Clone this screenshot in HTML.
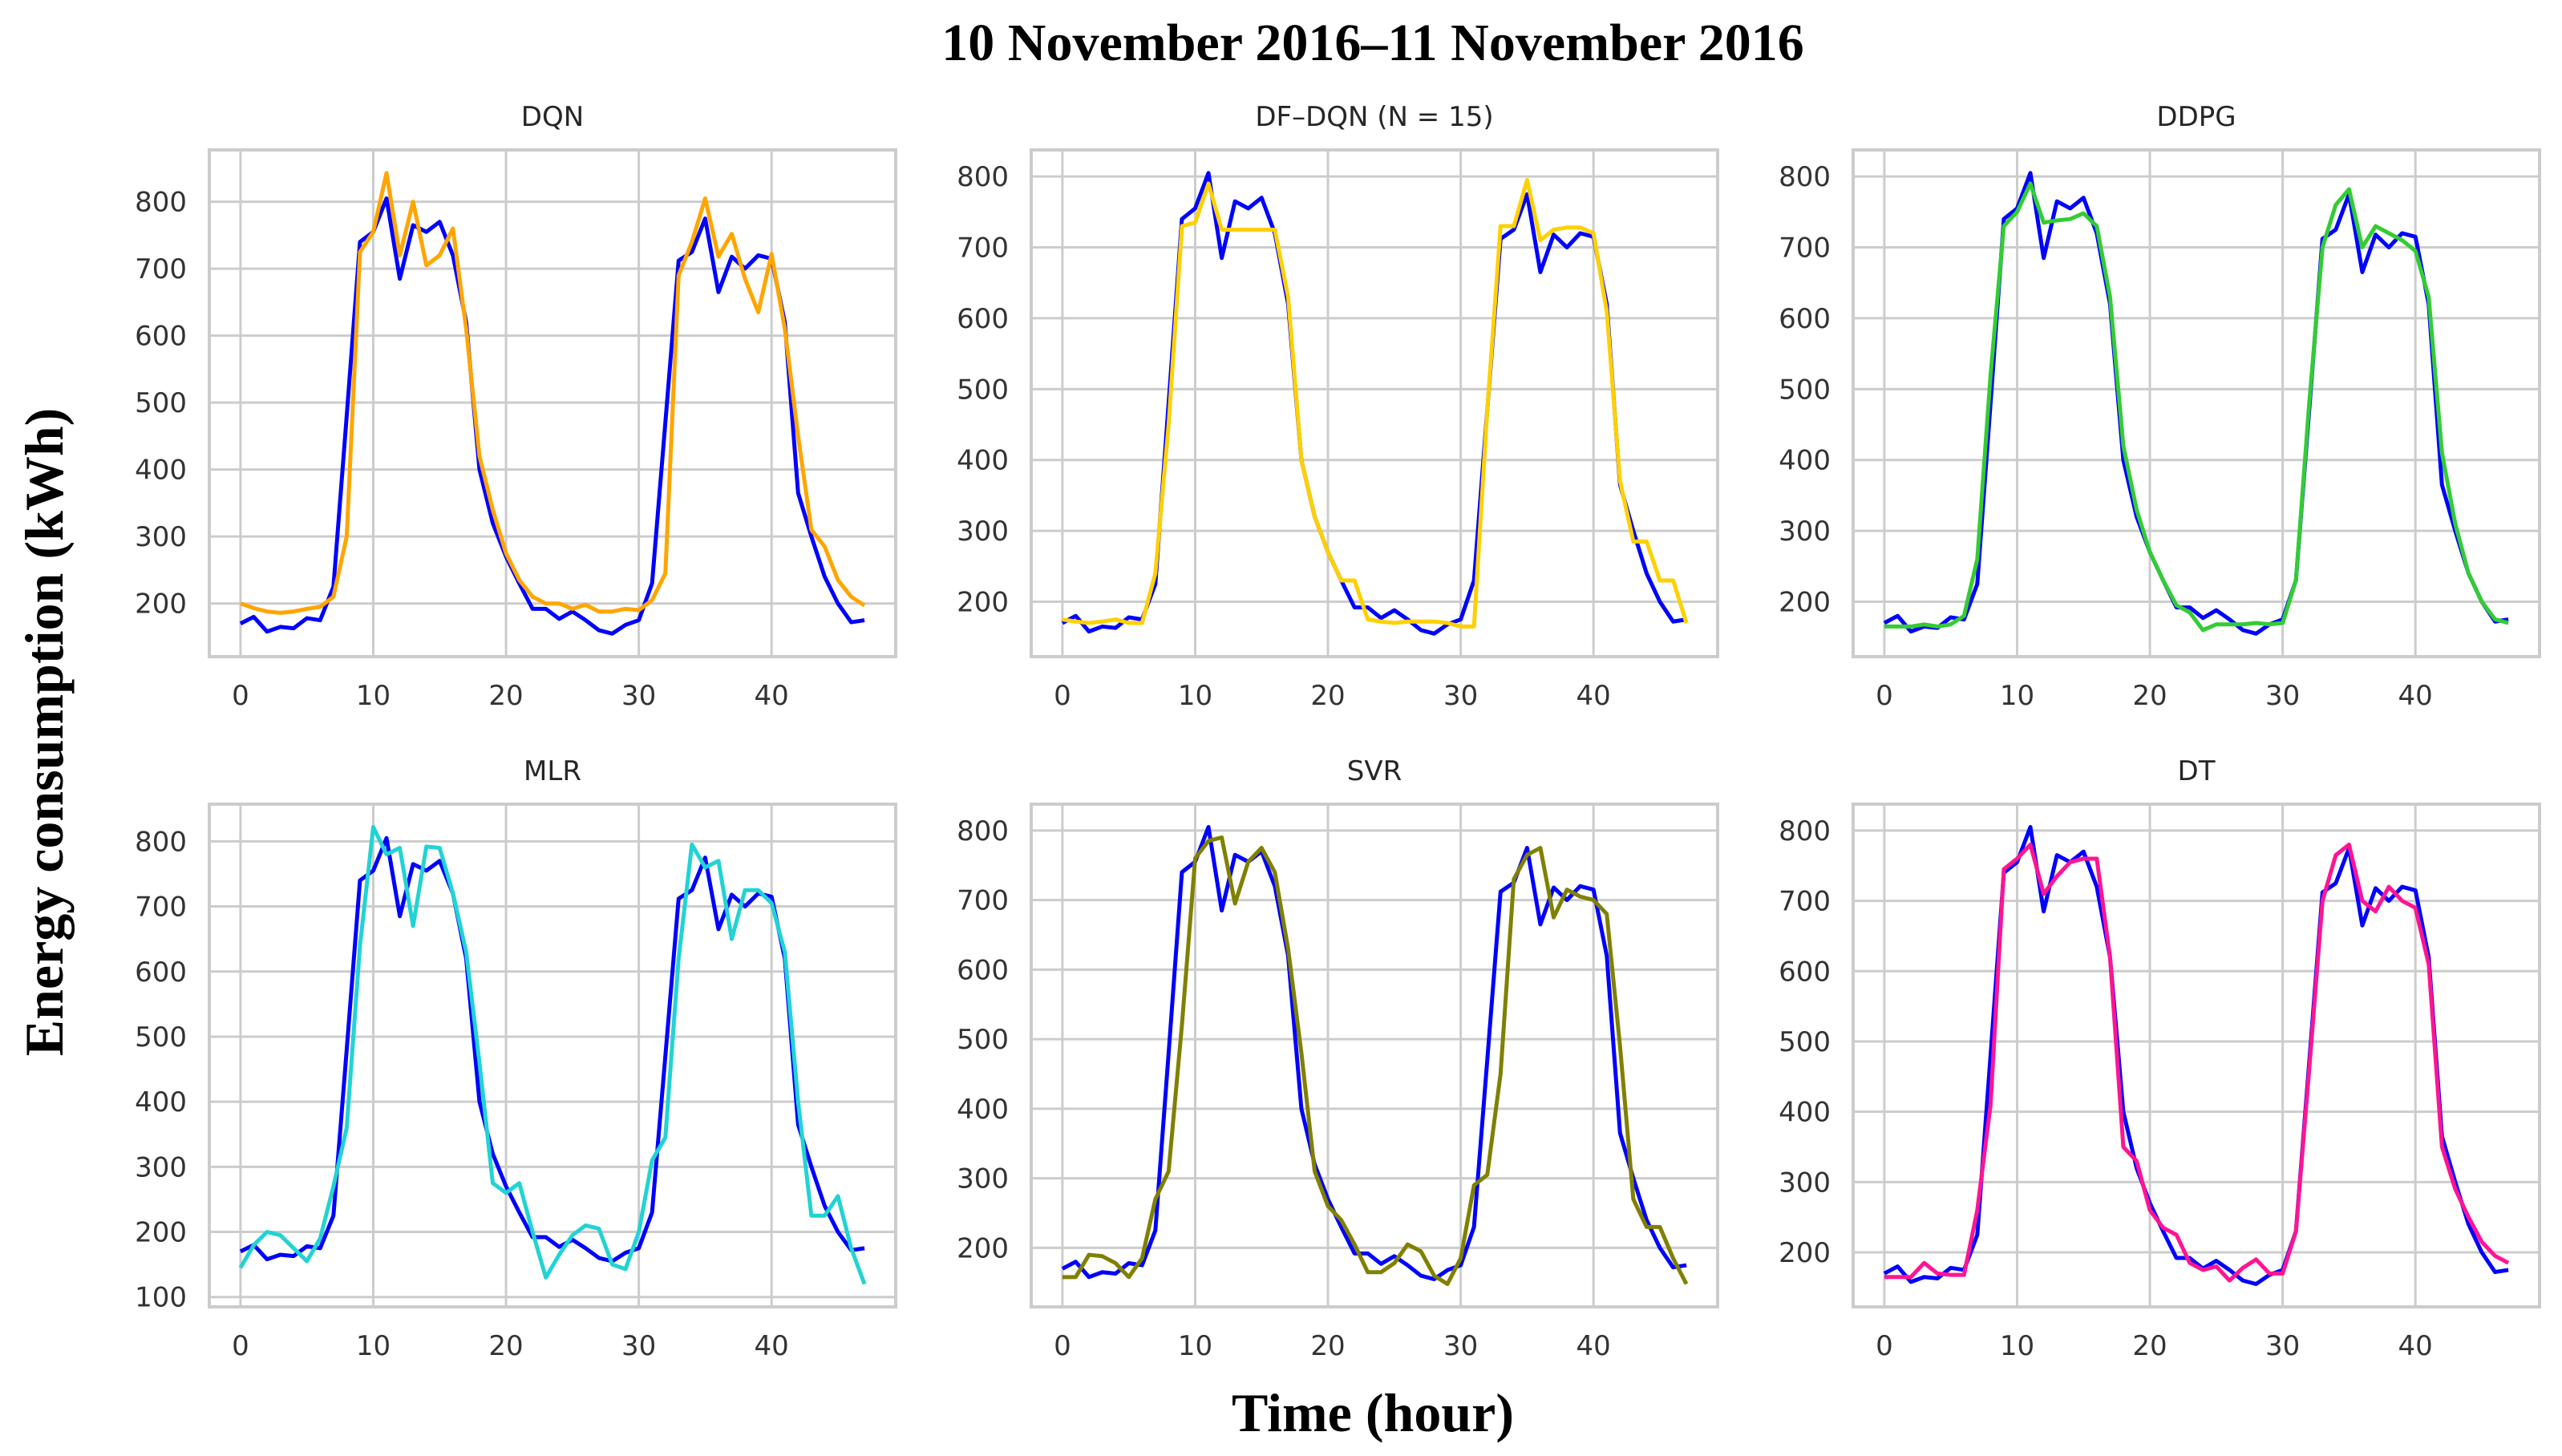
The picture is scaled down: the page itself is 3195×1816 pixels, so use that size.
<!DOCTYPE html>
<html><head><meta charset="utf-8"><style>
html,body{margin:0;padding:0;background:#fff;}
svg{display:block;}
</style></head><body>
<svg id="fig" width="3195" height="1816" viewBox="0 0 3195 1816" xmlns="http://www.w3.org/2000/svg">
<rect width="3195" height="1816" fill="#fff"/>
<text x="1712" y="75" text-anchor="middle" font-family="Liberation Serif, serif" font-weight="bold" font-size="66">10 November 2016–11 November 2016</text>
<text transform="translate(78,913) rotate(-90)" text-anchor="middle" font-family="Liberation Serif, serif" font-weight="bold" font-size="68">Energy consumption (kWh)</text>
<text x="1712" y="1785" text-anchor="middle" font-family="Liberation Serif, serif" font-weight="bold" font-size="68">Time (hour)</text>
<g id="panels"></g>
</svg>
<script>
const hours = Array.from({length:48},(_,i)=>i);
const actual = [170,180,158,165,163,178,175,225,480,740,755,805,685,765,755,770,720,620,400,320,270,230,192,192,177,188,175,160,155,168,175,230,470,712,725,775,665,718,700,720,715,620,365,300,240,200,172,175];
const dqn = [200,193,188,186,188,192,195,210,300,725,755,843,720,800,705,720,760,610,420,340,275,235,210,200,200,192,198,188,188,192,190,205,245,690,740,805,718,752,685,635,722,610,450,310,285,235,210,197];
const dfdqn = [175,172,170,172,175,170,170,240,450,730,735,790,725,725,725,725,725,630,400,320,270,230,230,175,172,170,172,172,172,170,165,165,470,730,730,795,710,725,728,728,720,610,370,285,285,230,230,170];
const ddpg = [165,165,165,168,165,168,180,260,520,730,750,790,735,738,740,748,730,630,420,330,270,230,195,185,160,168,168,168,170,168,170,230,480,700,760,782,700,730,720,710,695,630,410,310,240,200,175,170];
const mlr = [145,180,200,195,175,155,190,270,360,640,822,780,790,670,792,790,720,630,460,275,260,275,200,130,165,195,210,205,150,143,200,310,345,620,795,760,770,650,725,725,705,630,400,225,225,255,175,120];
const svr = [158,158,190,188,178,158,185,270,310,520,760,785,790,695,755,775,740,630,480,310,260,240,205,165,165,178,205,195,160,148,185,290,305,450,730,765,775,675,715,705,700,680,490,270,230,230,185,148];
const dt = [165,165,165,185,170,168,168,260,410,745,760,780,710,735,755,760,760,620,350,330,260,235,225,185,175,180,160,178,190,170,170,230,460,700,765,780,700,685,720,700,690,610,350,290,250,215,195,185];
const panelTitles = ["DQN","DF–DQN (N = 15)","DDPG","MLR","SVR","DT"];
const panelSeries = [dqn, dfdqn, ddpg, mlr, svr, dt];
const panelColors = ["#ffa500","#ffd000","#33cc33","#22d3d3","#808000","#ff1493"];
const xTicks = [0,10,20,30,40];

const NS="http://www.w3.org/2000/svg";
const root=document.getElementById('panels');
function mk(tag,attrs,parent){const e=document.createElementNS(NS,tag);for(const k in attrs)e.setAttribute(k,attrs[k]);parent.appendChild(e);return e;}
const colL=[261,1286,2311], W=856;
const rowT=[187,1003], H=[632,627];
panelSeries.forEach((pred,pi)=>{
  const col=pi%3,row=Math.floor(pi/3);
  const L=colL[col],T=rowT[row],h=H[row];
  const g=mk('g',{},root);
  
  
  const all=actual.concat(pred);
  const mn=Math.min(...all),mx=Math.max(...all),m=(mx-mn)*0.05;
  const y0=mn-m,y1=mx+m;
  const x0=-2.35,x1=49.35;
  const sx=v=>L+(v-x0)/(x1-x0)*W;
  const sy=v=>T+h-(v-y0)/(y1-y0)*h;
  const bg=mk('rect',{x:L,y:T,width:W,height:h,fill:'#fff'},g);
  
  
  for(let v=Math.ceil(y0/100)*100;v<=y1;v+=100){
    const gl=mk('line',{x1:L,x2:L+W,y1:sy(v),y2:sy(v),stroke:'#cccccc','stroke-width':3},g);
    
    
    const t=mk('text',{x:L-28,y:sy(v)+12,'text-anchor':'end','font-family':'DejaVu Sans, sans-serif','font-size':34,fill:'#333'},g);
    
    
    t.textContent=v;
  }
  xTicks.forEach(v=>{
    const gl=mk('line',{x1:sx(v),x2:sx(v),y1:T,y2:T+h,stroke:'#cccccc','stroke-width':3},g);
    
    
    const t=mk('text',{x:sx(v),y:T+h+60,'text-anchor':'middle','font-family':'DejaVu Sans, sans-serif','font-size':34,fill:'#333'},g);
    
    
    t.textContent=v;
  });
  const fr=mk('rect',{x:L,y:T,width:W,height:h,fill:'none',stroke:'#cccccc','stroke-width':4},g);
  
  
  const tt=mk('text',{x:L+W/2,y:T-30,'text-anchor':'middle','font-family':'DejaVu Sans, sans-serif','font-size':34,fill:'#262626'},g);
  
  
  tt.textContent=panelTitles[pi];
  const pa=mk('polyline',{points:hours.map(i=>sx(i)+','+sy(actual[i])).join(' '),fill:'none',stroke:'#0000ff','stroke-width':5,'stroke-linejoin':'round'},g);
  
  
  const pp=mk('polyline',{points:hours.map(i=>sx(i)+','+sy(pred[i])).join(' '),fill:'none',stroke:panelColors[pi],'stroke-width':5,'stroke-linejoin':'round'},g);
  
  
});
</script>
</body></html>
